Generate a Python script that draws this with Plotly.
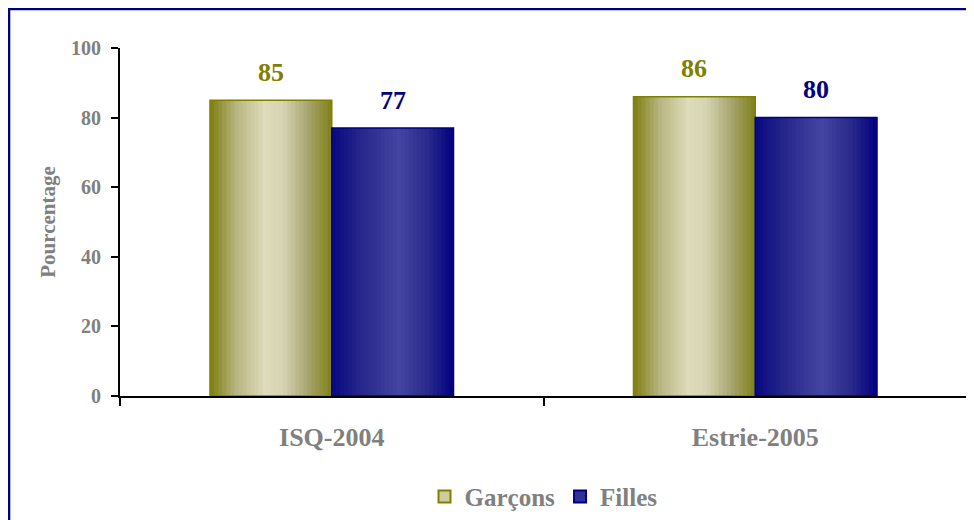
import plotly.graph_objects as go

categories = ["ISQ-2004", "Estrie-2005"]
garcons = [85, 86]
filles = [77, 80]
series_names = ["Garçons", "Filles"]
y_ticks = [0, 20, 40, 60, 80, 100]

# style
FONT = "Liberation Serif"
GRAY = "#808080"
OLIVE = "#808000"
NAVY = "#000080"
BAR_W = 0.2875          # bar width in category units
N_SLICES = 30
OVERLAP = 0.004         # slice overlap in category units (~1.7 px)

def lerp(c1, c2, t):
    return tuple(c1[k] + (c2[k] - c1[k]) * t for k in range(3))

def grad_color(stops, t):
    for (p0, c0), (p1, c1) in zip(stops, stops[1:]):
        if p0 <= t <= p1:
            c = lerp(c0, c1, (t - p0) / (p1 - p0) if p1 > p0 else 0)
            return "rgb(%d,%d,%d)" % tuple(round(v) for v in c)
    c = stops[-1][1]
    return "rgb(%d,%d,%d)" % c

olive_stops = [(0.0, (126, 126, 16)), (0.22, (184, 182, 130)), (0.45, (222, 220, 186)),
               (0.6, (214, 212, 178)), (0.8, (168, 166, 112)), (1.0, (128, 128, 24))]
navy_stops = [(0.0, (8, 8, 128)), (0.25, (40, 40, 140)), (0.55, (68, 68, 162)),
              (0.8, (40, 40, 138)), (1.0, (0, 0, 128))]

fig = go.Figure()

specs = [
    (garcons, series_names[0], -BAR_W, olive_stops, OLIVE, "rgb(205,204,160)"),
    (filles, series_names[1], 0.0, navy_stops, NAVY, "rgb(50,50,150)"),
]

step = BAR_W / N_SLICES
for values, name, base_off, stops, line_col, legend_fill in specs:
    for i in range(N_SLICES):
        t = (i + 0.5) / N_SLICES
        w = step + (OVERLAP if i < N_SLICES - 1 else 0)
        fig.add_trace(go.Bar(
            x=categories, y=values,
            width=w, offset=base_off + i * step,
            marker=dict(color=grad_color(stops, t), line=dict(width=0)),
            showlegend=False, hoverinfo="skip",
        ))
    # outline
    fig.add_trace(go.Bar(
        x=categories, y=values, width=BAR_W, offset=base_off,
        marker=dict(color="rgba(0,0,0,0)", line=dict(color=line_col, width=1.5)),
        showlegend=False, name=name,
    ))
    # legend entry
    fig.add_trace(go.Bar(
        x=[categories[0]], y=[None], name=name,
        marker=dict(color=legend_fill, line=dict(color=line_col, width=2)),
        showlegend=True,
    ))
    # value labels
    for j, v in enumerate(values):
        fig.add_annotation(
            x=j + base_off + BAR_W / 2, y=v, xref="x", yref="y",
            text=str(v), showarrow=False, yanchor="middle", yshift=28,
            font=dict(family=FONT, size=26, color=line_col, weight="bold"),
        )

# outer border (partially cropped like the reference)
fig.add_shape(type="rect", xref="paper", yref="paper",
              x0=-0.131, x1=1.2, y0=-0.7, y1=1.112,
              line=dict(color=NAVY, width=2.5), layer="above")

fig.update_layout(
    width=974, height=520,
    margin=dict(l=112, r=15, t=40, b=132, autoexpand=False),
    paper_bgcolor="white", plot_bgcolor="white",
    barmode="overlay",
    font=dict(family=FONT, color=GRAY),
    legend=dict(orientation="h", x=0.5, xanchor="center",
                yref="container", y=0.06, yanchor="middle",
                font=dict(family=FONT, size=25, color=GRAY, weight="bold"),
                itemwidth=30, traceorder="normal"),
    xaxis=dict(type="category", range=[-0.5, 1.5], tickson="boundaries",
               ticks="outside", ticklen=8, tickwidth=2, tickcolor="black",
               showline=True, linewidth=2, linecolor="black", showgrid=False,
               ticklabelstandoff=17,
               tickfont=dict(family=FONT, size=26, color=GRAY, weight="bold")),
    yaxis=dict(range=[0, 100], tickvals=y_ticks, ticks="outside", ticklen=7,
               tickwidth=2, tickcolor="black", showline=True, linewidth=2,
               linecolor="black", showgrid=False, zeroline=False,
               ticklabelstandoff=6,
               tickfont=dict(family=FONT, size=20, color=GRAY, weight="bold"),
               title=dict(text="Pourcentage", standoff=10,
                          font=dict(family=FONT, size=21, color=GRAY, weight="bold"))),
)

fig.write_html("out.html")
